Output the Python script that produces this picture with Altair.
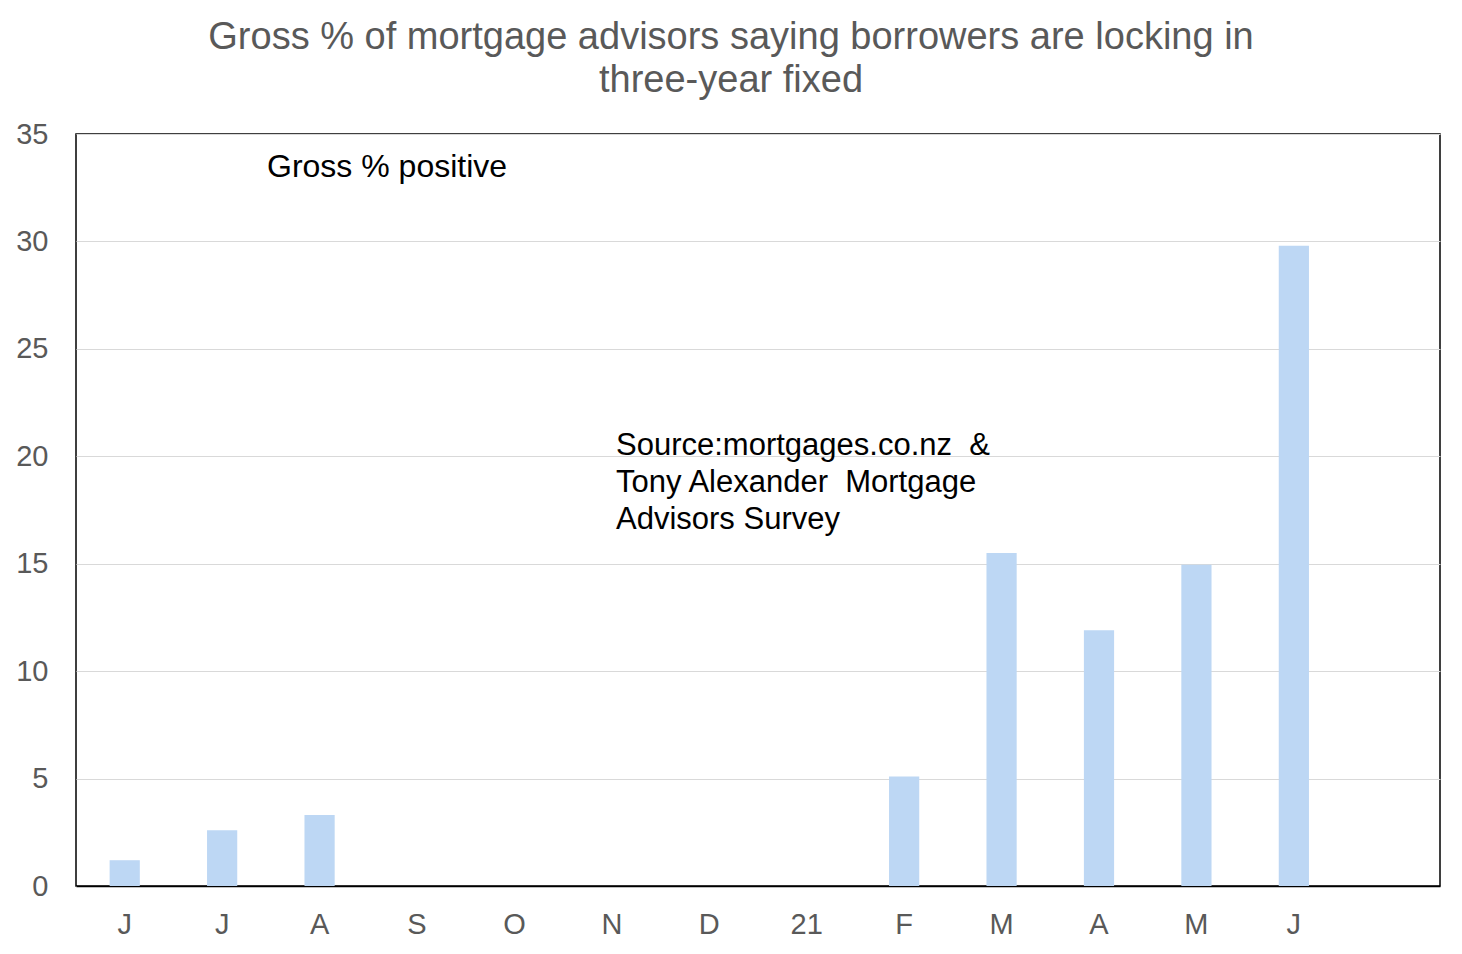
import altair as alt
import pandas as pd

months = ["Jun20", "Jul20", "Aug20", "Sep20", "Oct20", "Nov20", "Dec20",
          "Jan21", "Feb21", "Mar21", "Apr21", "May21", "Jun21", "Jul21"]
labels = ["J", "J", "A", "S", "O", "N", "D", "21", "F", "M", "A", "M", "J", ""]
values = [1.2, 2.6, 3.3, None, None, None, None, None, 5.1, 15.5, 11.9, 14.95, 29.8, None]

df = pd.DataFrame({"month": months, "value": values})

label_map = "{" + ",".join(f'"{m}":"{l}"' for m, l in zip(months, labels)) + "}"

FONT = "Liberation Sans"

bars = alt.Chart(df).mark_bar(color="#BDD7F4").encode(
    x=alt.X("month:N", sort=months,
            scale=alt.Scale(domain=months, paddingInner=0.69, paddingOuter=0.345),
            axis=alt.Axis(title=None, labelExpr=f"{label_map}[datum.value]",
                          labelAngle=0, ticks=False, domain=True, domainColor="#000000",
                          domainWidth=1.5, labelPadding=24, labelFontSize=29,
                          labelColor="#595959", labelFont=FONT, grid=False)),
    y=alt.Y("value:Q",
            scale=alt.Scale(domain=[0, 35], nice=False),
            axis=alt.Axis(title=None, values=[0, 5, 10, 15, 20, 25, 30, 35],
                          ticks=False, domain=False, labelPadding=28, labelFontSize=29,
                          labelColor="#595959", labelFont=FONT,
                          grid=True, gridColor="#D9D9D9", gridWidth=1.2)),
)

note1 = alt.Chart(pd.DataFrame({"t": ["Gross % positive"]})).mark_text(
    align="left", baseline="alphabetic", fontSize=32, font=FONT, color="#000000"
).encode(text="t:N", x=alt.value(191), y=alt.value(43))

note2 = alt.Chart(pd.DataFrame({"t": [["Source:mortgages.co.nz \u00a0&",
                                       "Tony Alexander \u00a0Mortgage",
                                       "Advisors Survey"]]})).mark_text(
    align="left", baseline="alphabetic", fontSize=31, font=FONT, color="#000000",
    lineHeight=37
).encode(text="t", x=alt.value(540), y=alt.value(321))

chart = (bars + note1 + note2).properties(
    width=1364, height=752,
    title=alt.TitleParams(
        ["Gross % of mortgage advisors saying borrowers are locking in",
         "three-year fixed"],
        fontSize=38, font=FONT, fontWeight="normal", color="#595959",
        anchor="middle", offset=20, dx=-27, lineHeight=43),
    autosize=alt.AutoSizeParams(type="none"),
    padding={"left": 68, "top": 126, "right": 14, "bottom": 60},
).configure(background="white").configure_view(stroke="#000000", strokeWidth=1.5)

chart.save("out.html", embed_options={"renderer": "svg", "actions": False})
